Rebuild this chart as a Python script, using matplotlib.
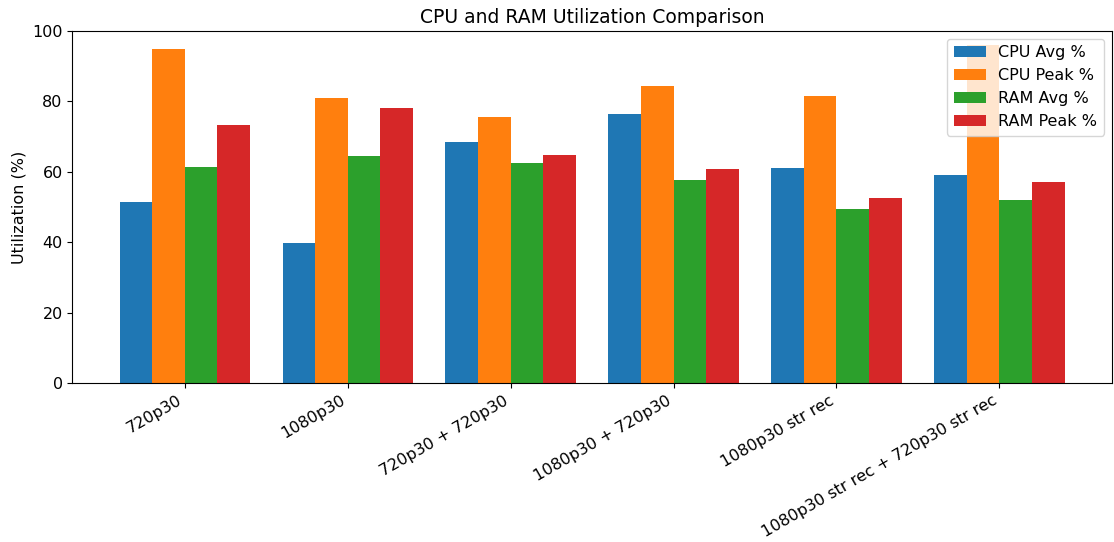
import numpy as np
import matplotlib
matplotlib.use("Agg")
import matplotlib.pyplot as plt

plt.rcParams["font.size"] = 11.5

# test scenarios
scenarios = [
    "720p30",
    "1080p30",
    "720p30 + 720p30",
    "1080p30 + 720p30",
    "1080p30 str rec",
    "1080p30 str rec + 720p30 str rec",
]

# measured utilization (%)
cpu_avg = [51.3, 39.7, 68.4, 76.4, 61.2, 59.0]
cpu_peak = [94.9, 81.0, 75.6, 84.4, 81.5, 96.0]
ram_avg = [61.4, 64.5, 62.6, 57.6, 49.5, 52.0]
ram_peak = [73.2, 78.2, 64.8, 60.8, 52.5, 57.2]

x = np.arange(len(scenarios))
width = 0.2

fig, ax = plt.subplots(figsize=(11.14, 5.42), dpi=100)
ax.bar(x - 1.5 * width, cpu_avg, width, label="CPU Avg %")
ax.bar(x - 0.5 * width, cpu_peak, width, label="CPU Peak %")
ax.bar(x + 0.5 * width, ram_avg, width, label="RAM Avg %")
ax.bar(x + 1.5 * width, ram_peak, width, label="RAM Peak %")

ax.set_ylabel("Utilization (%)")
ax.set_title("CPU and RAM Utilization Comparison", fontsize=13.5)
ax.set_xticks(x)
ax.set_xticklabels(scenarios, rotation=30, ha="right")
ax.set_ylim(0, 100)
ax.legend()

fig.subplots_adjust(left=0.065, right=0.998, top=0.943, bottom=0.293)
fig.savefig("out.png")
